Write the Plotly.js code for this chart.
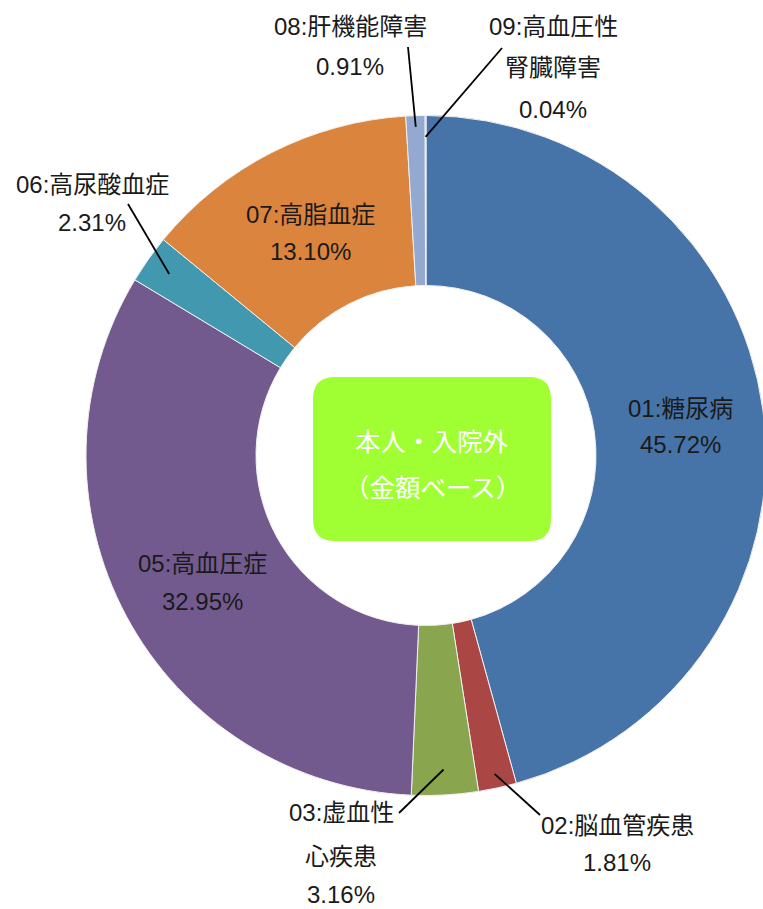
<!DOCTYPE html>
<html>
<head>
<meta charset="utf-8">
<script src="https://cdn.plot.ly/plotly-3.0.1.min.js"></script>
<style>
html,body{margin:0;padding:0;overflow:hidden;background:#fff;}
#chart{width:770px;height:909px;}
</style>
</head>
<body>
<div id="chart"></div>
<script>
// ---- data ----
const categories = ['01:糖尿病','02:脳血管疾患','03:虚血性心疾患','05:高血圧症','06:高尿酸血症','07:高脂血症','08:肝機能障害','09:高血圧性腎臓障害'];
const nameLines = [['01:糖尿病'],['02:脳血管疾患'],['03:虚血性','心疾患'],['05:高血圧症'],['06:高尿酸血症'],['07:高脂血症'],['08:肝機能障害'],['09:高血圧性','腎臓障害']];
const values = [45.72, 1.81, 3.16, 32.95, 2.31, 13.10, 0.91, 0.04];
const colors = ['#4674A8','#AA4643','#89A54E','#725A8E','#4198AF','#DB843D','#93A9CF','#C9A9A8'];
const centerLines = ['本人・入院外','（金額ベース）'];

// ---- layout (pixels) ----
const W = 770, H = 909;
const M = {l:86, r:4, t:115, b:113};
const PW = W - M.l - M.r, PH = H - M.t - M.b;
const R = Math.min(PW, PH) / 2;
const CX = M.l + PW / 2, CY = M.t + PH / 2;
const px = x => (x - M.l) / PW;
const py = y => 1 - (y - M.t) / PH;

// label placement: [centerX, firstLineY, lineGap]
const labelPos = [
  [680, 408, 36],
  [617, 825, 37],
  [341, 812, 44],
  [202, 563, 38],
  [92, 184, 38],
  [310, 214, 37],
  [350, 26, 40],
  [553, 26, 42]
];
// leader lines: [radius fraction of start, end x, end y] or null
const leaders = [
  null,
  [0.958, 540, 815],
  [0.925, 399, 813],
  null,
  [0.925, 128, 204],
  null,
  [0.967, 408, 47],
  [0.937, 502, 48]
];

const font = 'Liberation Sans, Arial, "Noto Sans CJK JP", sans-serif';
const total = values.reduce((a,b)=>a+b,0);
const annotations = [];
const shapes = [];
let cum = 0;
values.forEach((v, i) => {
  const mid = (cum + v/2) / total * 2 * Math.PI;
  cum += v;
  const lines = nameLines[i].concat([v.toFixed(2) + '%']);
  const [lx, ly, gap] = labelPos[i];
  lines.forEach((t, k) => {
    annotations.push({
      xref:'paper', yref:'paper', x:px(lx), y:py(Math.min(ly + k*gap, 894)),
      text:t, showarrow:false, xanchor:'center', yanchor:'middle', borderpad:0,
      font:{family:font, size:24, color:'#1a1a1a'}
    });
  });
  const ld = leaders[i];
  if (ld) {
    const sx = CX + ld[0]*R*Math.sin(mid);
    const sy = CY - ld[0]*R*Math.cos(mid);
    shapes.push({type:'line', xref:'paper', yref:'paper',
      x0:px(sx), y0:py(sy), x1:px(ld[1]), y1:py(ld[2]),
      line:{color:'#000', width:1.8}, layer:'above'});
  }
});

// center rounded box
const bx0 = 313, bx1 = 551, by0 = 377, by1 = 541, rr = 22;
const P = (x,y) => px(x) + ',' + py(y);
const path = 'M' + P(bx0+rr,by0) + ' L' + P(bx1-rr,by0) + ' Q' + P(bx1,by0) + ' ' + P(bx1,by0+rr) +
  ' L' + P(bx1,by1-rr) + ' Q' + P(bx1,by1) + ' ' + P(bx1-rr,by1) +
  ' L' + P(bx0+rr,by1) + ' Q' + P(bx0,by1) + ' ' + P(bx0,by1-rr) +
  ' L' + P(bx0,by0+rr) + ' Q' + P(bx0,by0) + ' ' + P(bx0+rr,by0) + ' Z';
shapes.push({type:'path', xref:'paper', yref:'paper', path:path,
  fillcolor:'#A0FF33', line:{width:0}, layer:'above'});
centerLines.forEach((t,k) => {
  annotations.push({xref:'paper', yref:'paper', x:px(432), y:py(440 + k*45),
    text:t, showarrow:false, xanchor:'center', yanchor:'middle',
    font:{family:'"Noto Sans CJK JP", sans-serif', size:25.5, color:'#ffffff'}});
});

const trace = {
  type:'pie', labels:categories, values:values, sort:false,
  direction:'clockwise', rotation:0, hole:0.5,
  marker:{colors:colors, line:{color:'#f0f0f0', width:1}},
  textinfo:'none', hoverinfo:'label+percent', showlegend:false
};

Plotly.newPlot('chart', [trace], {
  width:W, height:H, margin:M, showlegend:false,
  paper_bgcolor:'#fff', plot_bgcolor:'#fff',
  annotations:annotations, shapes:shapes
}, {staticPlot:true});
</script>
</body>
</html>
